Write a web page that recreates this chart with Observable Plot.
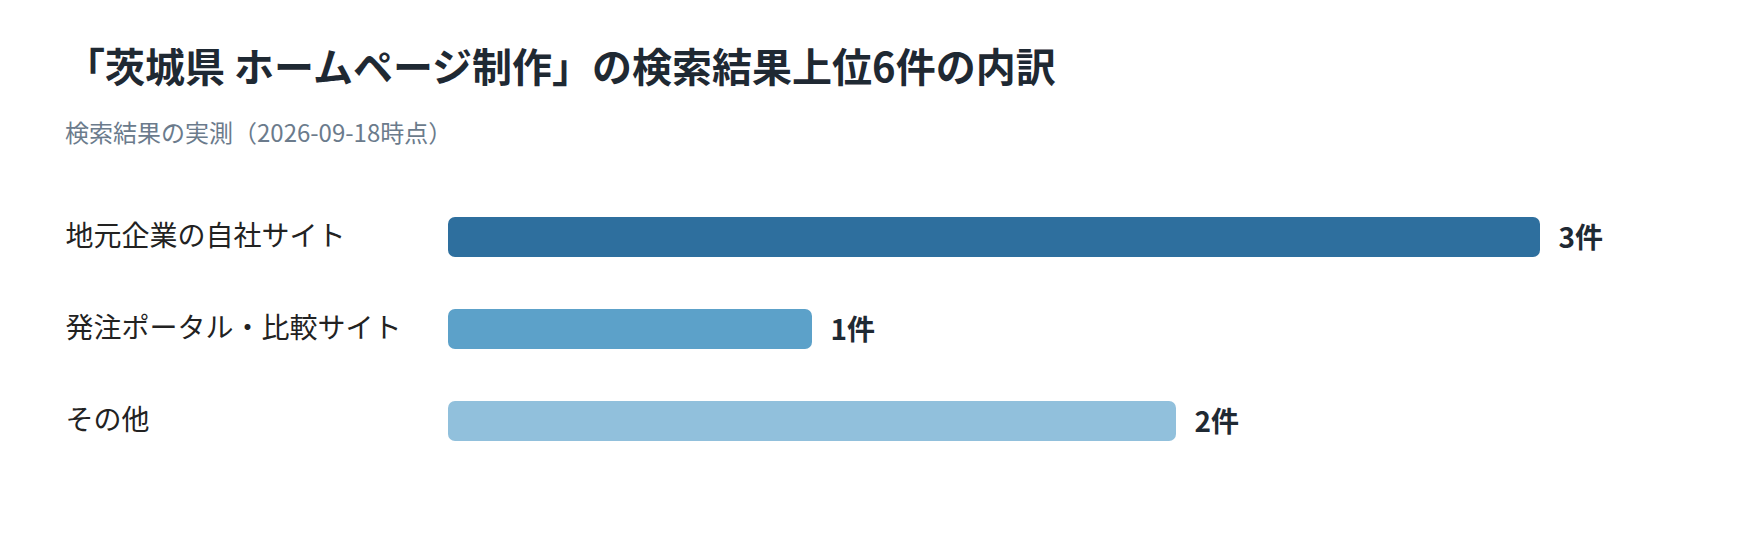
<!DOCTYPE html>
<html>
<head>
<meta charset="utf-8">
<script src="https://cdn.jsdelivr.net/npm/d3@7"></script>
<script src="https://cdn.jsdelivr.net/npm/@observablehq/plot@0.6"></script>
<style>
  html, body { margin: 0; padding: 0; background: #fff; }
  body { width: 1760px; height: 540px; position: relative; font-family: "Noto Sans CJK JP", "Noto Sans", sans-serif; overflow: hidden; }
  #title { position: absolute; left: 65px; top: 41px; font-size: 40px; line-height: 48px; font-weight: 700; color: #1f2933; white-space: nowrap; }
  #subtitle { position: absolute; left: 65px; top: 117px; font-size: 24px; line-height: 30px; color: #6b7b8c; white-space: nowrap; }
  #chart { position: absolute; left: 0; top: 170px; }
</style>
</head>
<body>
<div id="title">「茨城県 ホームページ制作」の検索結果上位6件の内訳</div>
<div id="subtitle">検索結果の実測（2026-09-18時点）</div>
<div id="chart"></div>
<script>
const categories = ["地元企業の自社サイト", "発注ポータル・比較サイト", "その他"];
const counts = [3, 1, 2];
const barColors = ["#2e6f9e", "#5ca1c9", "#91c0dc"];
const unit = "件";

const data = categories.map((c, i) => ({category: c, value: counts[i], color: barColors[i]}));

const chart = Plot.plot({
  width: 1760,
  height: 330,
  marginLeft: 448,
  marginRight: 220,
  marginTop: 46,
  marginBottom: 58,
  style: {fontFamily: "'Noto Sans CJK JP', 'Noto Sans', sans-serif", background: "transparent", color: "#1f2933"},
  x: {domain: [0, 3], axis: null},
  y: {domain: categories, paddingInner: 0.56, paddingOuter: 0, label: null},
  color: {type: "identity"},
  marks: [
    Plot.axisY({tickSize: 0, tickPadding: 383, textAnchor: "start", fontSize: 28, label: null, fill: "#222"}),
    Plot.barX(data, {x: "value", y: "category", fill: "color", rx: 7}),
    Plot.text(data, {x: "value", y: "category", text: d => d.value + unit, dx: 18, dy: 2, textAnchor: "start", fontSize: 28, fontWeight: "bold", fill: "#1f2933"})
  ]
});
document.getElementById("chart").appendChild(chart);
</script>
</body>
</html>
